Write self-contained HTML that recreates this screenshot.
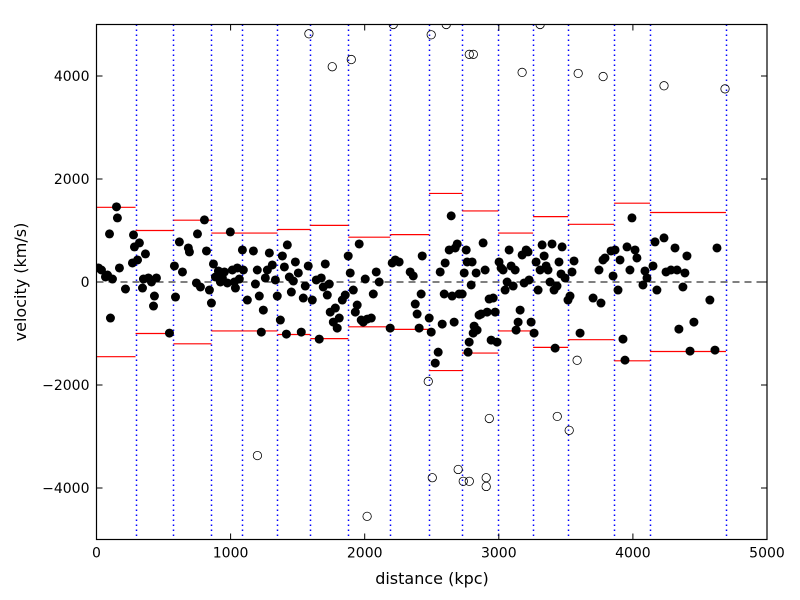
<!DOCTYPE html>
<html><head><meta charset="utf-8"><style>
html,body{margin:0;padding:0;background:#fff;}
svg{display:block;font-family:"DejaVu Sans","Liberation Sans",sans-serif;}
</style></head><body>
<svg id="chart" width="800" height="600" viewBox="0 0 800 600" xmlns="http://www.w3.org/2000/svg">
<rect width="800" height="600" fill="#fff"/>
<g id="plot"></g>
<text x="432" y="584" font-size="16" text-anchor="middle">distance (kpc)</text>
<text transform="translate(26,282) rotate(-90)" font-size="16" text-anchor="middle">velocity (km/s)</text>
</svg>
<script>
const xs=[15,37,67,82,97,104,119,149,156,171,216,268,276,283,306,320,343,350,365,387,410,425,432,447,544,581,589,618,641,685,693,745,753,775,805,820,842,857,872,887,909,924,939,954,976,998,1013,1028,1036,1050,1065,1088,1095,1125,1170,1185,1199,1214,1229,1244,1259,1274,1289,1311,1334,1348,1371,1386,1401,1416,1423,1438,1453,1468,1483,1505,1527,1542,1557,1579,1609,1639,1661,1676,1691,1706,1721,1736,1743,1766,1781,1795,1810,1833,1855,1877,1892,1915,1930,1944,1959,1974,1989,2004,2019,2049,2064,2086,2108,2190,2205,2228,2257,2339,2362,2377,2391,2406,2421,2429,2481,2496,2526,2548,2563,2578,2593,2600,2630,2645,2652,2667,2675,2690,2704,2727,2742,2757,2764,2771,2779,2794,2801,2809,2816,2831,2838,2853,2868,2883,2898,2913,2928,2943,2958,2973,2987,3002,3017,3032,3047,3062,3077,3092,3107,3122,3129,3144,3159,3174,3189,3204,3218,3226,3241,3263,3278,3293,3308,3323,3338,3353,3367,3382,3397,3412,3420,3434,3449,3464,3472,3494,3516,3531,3546,3561,3606,3703,3747,3762,3777,3792,3837,3852,3867,3889,3904,3926,3941,3956,3978,3993,4016,4030,4075,4090,4105,4150,4165,4179,4232,4247,4284,4314,4329,4343,4373,4388,4403,4426,4455,4574,4612,4627];
const vs=[272,233,97,136,934,-700,58,1459,1245,272,-136,370,914,681,428,759,-117,58,545,78,0,-467,-272,78,-992,311,-292,778,195,661,584,-19,934,-97,1206,603,-156,-408,350,97,214,0,78,195,-19,973,233,0,-117,272,58,622,233,-350,603,-39,233,-272,-973,-545,78,233,564,331,39,-272,-739,506,292,-1011,720,97,-195,19,389,175,-973,-311,-78,311,-350,39,-1109,78,-97,350,-253,-39,-584,-778,-506,-895,-700,-350,-253,506,175,-156,-584,-447,739,-739,-778,58,-720,-700,-233,195,0,-895,370,428,389,195,117,-428,-622,-895,-233,506,-700,-973,-1575,-1362,195,-817,-233,370,622,1284,-272,-778,661,739,-233,-233,175,622,389,-1362,-1167,-58,389,-992,-856,175,-934,-642,-622,759,233,-584,-331,-1128,-311,-584,-1167,389,272,233,-156,0,622,311,-78,233,-934,-778,-545,525,-19,622,584,39,-778,-992,389,-156,233,720,506,311,233,0,739,-156,-1284,-78,389,156,681,78,-350,-272,195,408,-992,-311,233,-408,428,467,603,117,622,-156,428,-1109,-1517,681,233,1245,622,467,-58,214,78,311,778,-156,856,195,233,661,233,-914,-97,175,506,-1342,-778,-350,-1322,661];
const oxs=[1584,1758,1900,2213,2496,2608,2780,2810,3174,3308,3592,3778,4232,4687,1200,2018,2504,2474,2697,2735,2780,2906,2906,2929,3436,3525,3584];
const ovs=[4820,4180,4320,5000,4800,5000,4420,4420,4070,5000,4050,3990,3810,3750,-3370,-4550,-3800,-1930,-3640,-3870,-3870,-3800,-3970,-2650,-2610,-2880,-1520];
const binEdges=[291,574,857,1088,1349,1595,1878,2191,2481,2727,2996,3256,3517,3860,4128,4694];
const binSigma=[1450,1000,1200,950,950,1020,1100,870,920,1720,1380,950,1270,1120,1530,1350];
const xTicks=[0,1000,2000,3000,4000,5000];
const yTicks=[-4000,-2000,0,2000,4000];
const L=96.5,R=767,T=24.5,B=539.5;
const sx=v=>L+(v/5000)*(R-L);
const sy=v=>T+(5000-v)/10000*(B-T);
const NS='http://www.w3.org/2000/svg';
const plot=document.getElementById('plot');
function mk(tag,attrs,parent){const e=document.createElementNS(NS,tag);for(const k in attrs)e.setAttribute(k,attrs[k]);(parent||plot).appendChild(e);return e;}
const clip=mk('clipPath',{id:'cp'});mk('rect',{x:L,y:T,width:R-L,height:B-T},clip);
const g=mk('g',{'clip-path':'url(#cp)'});
binEdges.forEach(x=>{const l=mk('line',{x1:Math.round(sx(x))+0.5,x2:Math.round(sx(x))+0.5,y1:T,y2:B,stroke:'#0000ff','stroke-width':1.5,'stroke-dasharray':'1.5,3.5'},g);

});
const z=mk('line',{x1:L,x2:R,y1:sy(0),y2:sy(0),stroke:'#000','stroke-width':1,'stroke-dasharray':'7,5'},g);


binSigma.forEach((s,i)=>{const x0=i===0?0:binEdges[i-1];const x1=binEdges[i];
 [s,-s].forEach(v=>{const l=mk('line',{x1:sx(x0),x2:sx(x1),y1:sy(v),y2:sy(v),stroke:'#ff0000','stroke-width':1.2},g);
 
 });});
xs.forEach((x,i)=>{const c=mk('circle',{cx:sx(x),cy:sy(vs[i]),r:4.5,fill:'#000'},g);

});
oxs.forEach((x,i)=>{const c=mk('circle',{cx:sx(x),cy:sy(ovs[i]),r:4.2,fill:'none',stroke:'#000','stroke-width':0.8},g);

});
const fr=mk('rect',{x:L,y:T,width:R-L,height:B-T,fill:'none',stroke:'#000','stroke-width':1.2});


xTicks.forEach(t=>{const x=sx(t);
 mk('line',{x1:x,x2:x,y1:B,y2:B-6,stroke:'#000'});mk('line',{x1:x,x2:x,y1:T,y2:T+6,stroke:'#000'});
 const tx=mk('text',{x:x,y:B+18,'font-size':14,'text-anchor':'middle'});tx.textContent=t;
 
 });
yTicks.forEach(t=>{const y=sy(t);
 mk('line',{x1:L,x2:L+6,y1:y,y2:y,stroke:'#000'});mk('line',{x1:R,x2:R-6,y1:y,y2:y,stroke:'#000'});
 const tx=mk('text',{x:L-7,y:y+5,'font-size':14,'text-anchor':'end'});tx.textContent=t<0?'\u2212'+(-t):t;
 
 });
</script>
</body></html>
